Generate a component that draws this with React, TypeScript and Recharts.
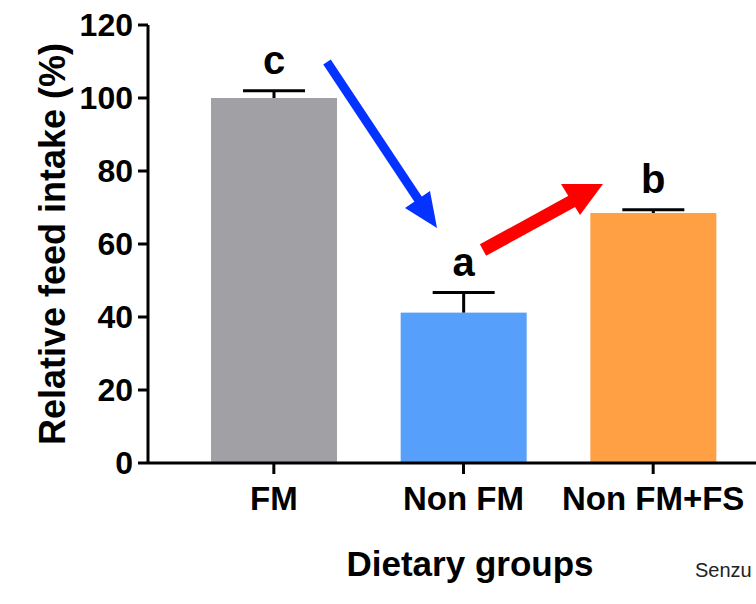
import { ComposedChart, Bar, XAxis, YAxis, Label } from 'recharts';

const groups = ['FM', 'Non FM', 'Non FM+FS'];
const intake = [100, 41.2, 68.5];
const sem = [2, 5.5, 0.9];
const letters = ['c', 'a', 'b'];
const colors = ['#a1a0a5', '#56a0fb', '#fea043'];
const yTicks = [0, 20, 40, 60, 80, 100, 120];

const data = groups.map((g, i) => ({ group: g, intake: intake[i], sem: sem[i], letter: letters[i], color: colors[i] }));

const font = '"Liberation Sans", Arial, Helvetica, sans-serif';

// bar + upper error whisker + significance letter, sized off the bar's own scale
const BarWithError = (props: any) => {
    const { x, y, width, height, payload } = props;
    const pxPerUnit = height / payload.intake;
    const errPx = payload.sem * pxPerUnit;
    const cx = x + width / 2;
    const top = y - errPx;
    return (
        <g>
            <rect x={x} y={y} width={width} height={height} fill={payload.color} />
            <line x1={cx} x2={cx} y1={y} y2={top} stroke="#000" strokeWidth={3} />
            <line x1={cx - 31} x2={cx + 31} y1={top} y2={top} stroke="#000" strokeWidth={3} />
            <text x={cx} y={top - 17} textAnchor="middle" fontSize={40} fontWeight="bold" fontFamily={font} fill="#000">
                {payload.letter}
            </text>
        </g>
    );
};

export default function App() {
    return (
        <div style={{ position: 'fixed', left: 0, top: 0, width: 756, height: 604, overflow: 'hidden', background: '#fff' }}>
            <ComposedChart width={756} height={604} data={data} margin={{ top: 25, right: 0, bottom: 0, left: 0 }}>
                <XAxis
                    dataKey="group"
                    height={141}
                    padding={{ left: 31, right: 8 }}
                    axisLine={{ stroke: '#000', strokeWidth: 3 }}
                    tickLine={{ stroke: '#000', strokeWidth: 3 }}
                    tickSize={11}
                    tickMargin={13}
                    tick={{ fill: '#000', fontSize: 33, fontWeight: 'bold', fontFamily: font }}
                    interval={0}
                >
                    <Label value="Dietary groups" position="insideBottom" offset={28} dx={18}
                        style={{ fill: '#000', fontSize: 35, fontWeight: 'bold', fontFamily: font }} />
                </XAxis>
                <YAxis
                    width={148}
                    domain={[0, 120]}
                    ticks={yTicks}
                    axisLine={{ stroke: '#000', strokeWidth: 3 }}
                    tickLine={{ stroke: '#000', strokeWidth: 3 }}
                    tickSize={10}
                    tickMargin={5}
                    tick={{ fill: '#000', fontSize: 32, fontWeight: 'bold', fontFamily: font }}
                >
                    <Label value="Relative feed intake (%)" angle={-90} position="insideLeft" offset={52}
                        style={{ textAnchor: 'middle', fill: '#000', fontSize: 36, fontWeight: 'bold', fontFamily: font }} />
                </YAxis>
                <Bar dataKey="intake" barSize={126} shape={BarWithError} isAnimationActive={false} />
            </ComposedChart>
            <svg width={756} height={604} style={{ position: 'absolute', left: 0, top: 0, pointerEvents: 'none' }}>
                <line x1={327} y1={62} x2={422} y2={205} stroke="#0433ff" strokeWidth={9} />
                <polygon points="437,228 405,208 430,191" fill="#0433ff" />
                <line x1={483} y1={250} x2={578} y2={198} stroke="#ff0000" strokeWidth={13} />
                <polygon points="603,184 561,184 580,215" fill="#ff0000" />
            </svg>
            <div style={{ position: 'absolute', left: 695, top: 558, fontFamily: font, fontSize: 20, lineHeight: '24px', color: '#222', whiteSpace: 'nowrap' }}>
                Senzu
            </div>
        </div>
    );
}
